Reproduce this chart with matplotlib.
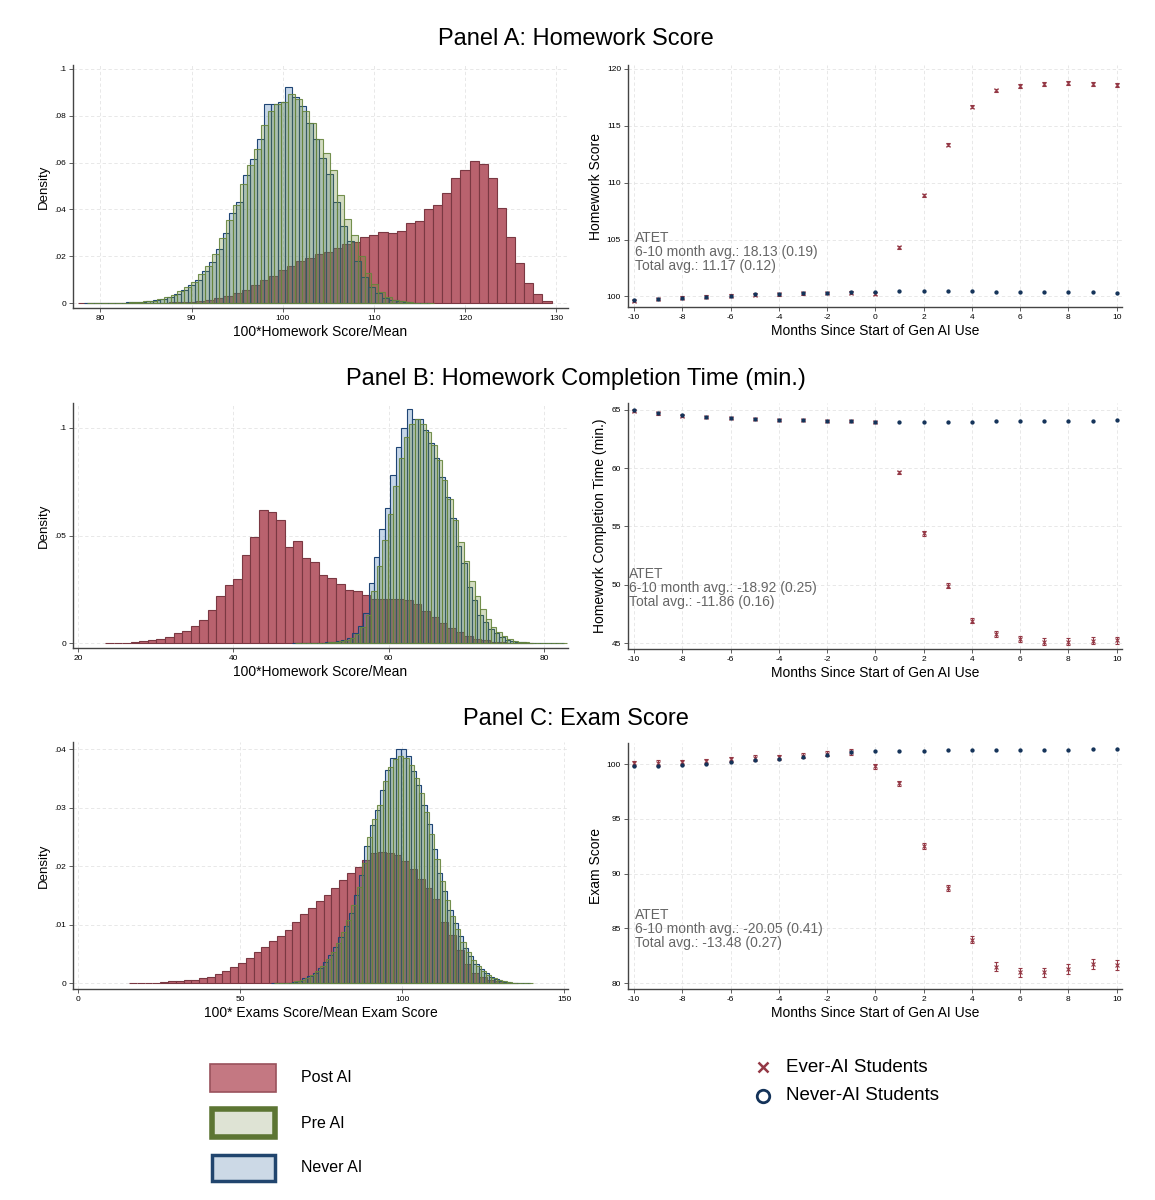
import numpy as np
import matplotlib
matplotlib.use("Agg")
import matplotlib.pyplot as plt
from matplotlib.patches import Rectangle
from matplotlib.lines import Line2D

plt.rcParams['font.family'] = ['Liberation Sans', 'DejaVu Sans']
plt.rcParams['axes.unicode_minus'] = False

# ---------------- DATA ----------------
series_labels = ["Post AI", "Pre AI", "Never AI"]
event_labels = ["Ever-AI Students", "Never-AI Students"]
panel_titles = ["Panel A: Homework Score",
                "Panel B: Homework Completion Time (min.)",
                "Panel C: Exam Score"]
hist_xlabels = ["100*Homework Score/Mean", "100*Homework Score/Mean",
                "100* Exams Score/Mean Exam Score"]
event_ylabels = ["Homework Score", "Homework Completion Time (min.)", "Exam Score"]
event_xlabel = "Months Since Start of Gen AI Use"

# Panel A histograms (bin start, bin width, densities)
a_post_bins = (77.5, 1.0)
a_post = [0.0000, 0.0000, 0.0000, 0.0000, 0.0000, 0.0001, 0.0001, 0.0001, 0.0002, 0.0002,
          0.0003, 0.0004, 0.0006, 0.0009, 0.0014, 0.0021, 0.0031, 0.0043, 0.0057, 0.0078,
          0.0100, 0.0117, 0.0142, 0.0160, 0.0178, 0.0192, 0.0209, 0.0220, 0.0235, 0.0252,
          0.0263, 0.0282, 0.0292, 0.0302, 0.0299, 0.0310, 0.0344, 0.0349, 0.0401, 0.0420,
          0.0472, 0.0533, 0.0569, 0.0607, 0.0593, 0.0536, 0.0405, 0.0282, 0.0171, 0.0085,
          0.0038, 0.0011]
a_pre_bins = (78.58, 0.76)
a_pre = [0.0000, 0.0000, 0.0001, 0.0001, 0.0001, 0.0002, 0.0003, 0.0004, 0.0007, 0.0011,
         0.0016, 0.0024, 0.0035, 0.0050, 0.0070, 0.0090, 0.0125, 0.0160, 0.0210, 0.0280,
         0.0355, 0.0420, 0.0510, 0.0590, 0.0660, 0.0760, 0.0820, 0.0850, 0.0860, 0.0895,
         0.0870, 0.0820, 0.0770, 0.0700, 0.0640, 0.0570, 0.0460, 0.0360, 0.0290, 0.0200,
         0.0130, 0.0080, 0.0048, 0.0026, 0.0014, 0.0008, 0.0004, 0.0002, 0.0001, 0.0001]
a_never_bins = (78.2, 0.76)
a_never = [0.0000, 0.0000, 0.0001, 0.0001, 0.0001, 0.0002, 0.0003, 0.0004, 0.0006, 0.0009,
           0.0013, 0.0019, 0.0027, 0.0040, 0.0055, 0.0078, 0.0100, 0.0135, 0.0175, 0.0230,
           0.0300, 0.0385, 0.0430, 0.0545, 0.0615, 0.0700, 0.0850, 0.0850, 0.0860, 0.0923,
           0.0880, 0.0840, 0.0770, 0.0700, 0.0620, 0.0550, 0.0430, 0.0330, 0.0265, 0.0180,
           0.0110, 0.0070, 0.0042, 0.0022, 0.0012, 0.0007, 0.0004, 0.0002, 0.0001, 0.0001]

# Panel B histograms
b_post_bins = (23.5, 1.1)
b_post = [0.0000, 0.0000, 0.0002, 0.0005, 0.0008, 0.0012, 0.0019, 0.0029, 0.0045, 0.0054,
          0.0078, 0.0107, 0.0155, 0.0217, 0.0271, 0.0299, 0.0408, 0.0491, 0.0620, 0.0609,
          0.0571, 0.0447, 0.0473, 0.0395, 0.0375, 0.0318, 0.0302, 0.0276, 0.0248, 0.0240,
          0.0225, 0.0206, 0.0205, 0.0206, 0.0204, 0.0200, 0.0180, 0.0150, 0.0120, 0.0095,
          0.0072, 0.0050, 0.0033, 0.0020, 0.0012, 0.0007, 0.0004, 0.0002, 0.0001, 0.0001]
b_pre_bins = (47.95, 0.7)
b_pre = [0.0000, 0.0000, 0.0000, 0.0001, 0.0001, 0.0002, 0.0003, 0.0005, 0.0008, 0.0013,
         0.0024, 0.0042, 0.0075, 0.0130, 0.0240, 0.0360, 0.0480, 0.0600, 0.0730, 0.0860,
         0.0960, 0.1020, 0.1040, 0.1020, 0.0980, 0.0920, 0.0850, 0.0760, 0.0670, 0.0570,
         0.0470, 0.0380, 0.0290, 0.0220, 0.0160, 0.0110, 0.0075, 0.0050, 0.0032, 0.0019,
         0.0011, 0.0006, 0.0003, 0.0002, 0.0001, 0.0001, 0.0000, 0.0000, 0.0000, 0.0000]
b_never_bins = (47.6, 0.7)
b_never = [0.0000, 0.0000, 0.0000, 0.0001, 0.0001, 0.0002, 0.0003, 0.0005, 0.0008, 0.0013,
           0.0025, 0.0045, 0.0080, 0.0140, 0.0280, 0.0400, 0.0530, 0.0630, 0.0780, 0.0910,
           0.1000, 0.1090, 0.1040, 0.1040, 0.0990, 0.0930, 0.0860, 0.0770, 0.0680, 0.0580,
           0.0450, 0.0370, 0.0260, 0.0200, 0.0130, 0.0100, 0.0065, 0.0045, 0.0028, 0.0016,
           0.0009, 0.0005, 0.0003, 0.0002, 0.0001, 0.0001, 0.0000, 0.0000, 0.0000, 0.0000]

# Panel C histograms
c_post_bins = (15.8, 2.4)
c_post = [0.0000, 0.0001, 0.0001, 0.0001, 0.0002, 0.0003, 0.0004, 0.0005, 0.0006, 0.0008,
          0.0011, 0.0015, 0.0021, 0.0028, 0.0035, 0.0043, 0.0053, 0.0062, 0.0072, 0.0081,
          0.0090, 0.0105, 0.0118, 0.0128, 0.0140, 0.0150, 0.0163, 0.0177, 0.0188, 0.0198,
          0.0210, 0.0222, 0.0224, 0.0222, 0.0219, 0.0208, 0.0195, 0.0178, 0.0163, 0.0143,
          0.0105, 0.0082, 0.0057, 0.0033, 0.0018, 0.0010, 0.0005, 0.0003, 0.0001, 0.0000]
c_pre_bins = (60.4, 1.6)
c_pre = [0.0000, 0.0000, 0.0001, 0.0001, 0.0003, 0.0005, 0.0009, 0.0014, 0.0021, 0.0030,
         0.0041, 0.0054, 0.0069, 0.0087, 0.0108, 0.0133, 0.0165, 0.0205, 0.0250, 0.0280,
         0.0305, 0.0345, 0.0370, 0.0383, 0.0388, 0.0385, 0.0372, 0.0350, 0.0325, 0.0292,
         0.0255, 0.0212, 0.0175, 0.0142, 0.0115, 0.0092, 0.0070, 0.0054, 0.0040, 0.0029,
         0.0021, 0.0014, 0.0009, 0.0005, 0.0003, 0.0002, 0.0001, 0.0000, 0.0000, 0.0000]
c_never_bins = (59.6, 1.6)
c_never = [0.0000, 0.0000, 0.0001, 0.0001, 0.0002, 0.0004, 0.0008, 0.0012, 0.0018, 0.0026,
           0.0036, 0.0048, 0.0062, 0.0078, 0.0098, 0.0120, 0.0150, 0.0185, 0.0235, 0.0270,
           0.0295, 0.0330, 0.0365, 0.0385, 0.0400, 0.0400, 0.0388, 0.0362, 0.0338, 0.0305,
           0.0272, 0.0230, 0.0188, 0.0158, 0.0125, 0.0102, 0.0080, 0.0060, 0.0047, 0.0033,
           0.0024, 0.0017, 0.0011, 0.0007, 0.0004, 0.0002, 0.0001, 0.0001, 0.0000, 0.0000]

# Event-study data
months = list(range(-10, 11))
a_never_y = [99.65, 99.80, 99.90, 99.97, 100.06, 100.20, 100.23, 100.29, 100.32, 100.35, 100.38,
             100.47, 100.44, 100.47, 100.44, 100.41, 100.41, 100.41, 100.38, 100.38, 100.29]
a_ever_y = [99.60, 99.78, 99.88, 99.98, 100.05, 100.15, 100.20, 100.28, 100.30, 100.33, 100.25,
            104.31, 108.89, 113.35, 116.68, 118.13, 118.48, 118.66, 118.75, 118.69, 118.63]
a_ever_err = [0.12] * 11 + [0.12, 0.13, 0.15, 0.15, 0.15, 0.17, 0.17, 0.20, 0.18, 0.18]

b_never_y = [64.97, 64.71, 64.51, 64.40, 64.29, 64.20, 64.14, 64.11, 64.06, 64.03, 63.94,
             63.94, 63.94, 63.94, 63.97, 64.00, 64.00, 64.00, 64.00, 64.06, 64.11]
b_ever_y = [64.90, 64.68, 64.48, 64.38, 64.27, 64.18, 64.12, 64.10, 64.05, 64.02, 63.92,
            59.63, 54.40, 49.94, 46.94, 45.80, 45.37, 45.14, 45.14, 45.23, 45.26]
b_ever_err = [0.10] * 11 + [0.15, 0.18, 0.20, 0.20, 0.22, 0.25, 0.28, 0.28, 0.30, 0.30]

c_never_y = [99.82, 99.79, 99.90, 100.00, 100.15, 100.37, 100.49, 100.61, 100.82, 101.07, 101.16,
             101.19, 101.19, 101.28, 101.31, 101.28, 101.31, 101.31, 101.28, 101.34, 101.34]
c_ever_y = [100.06, 100.09, 100.15, 100.24, 100.43, 100.55, 100.61, 100.76, 100.94, 101.10, 99.79,
            98.23, 92.54, 88.68, 83.96, 81.52, 81.00, 81.00, 81.28, 81.74, 81.67]
c_ever_err = [0.25] * 10 + [0.20, 0.22, 0.25, 0.28, 0.32, 0.38, 0.42, 0.42, 0.45, 0.45, 0.48]

atet_texts = ["ATET\n6-10 month avg.: 18.13 (0.19)\nTotal avg.: 11.17 (0.12)",
              "ATET\n6-10 month avg.: -18.92 (0.25)\nTotal avg.: -11.86 (0.16)",
              "ATET\n6-10 month avg.: -20.05 (0.41)\nTotal avg.: -13.48 (0.27)"]

# Tick settings
hist_xticks = [[80, 90, 100, 110, 120, 130], [20, 40, 60, 80], [0, 50, 100, 150]]
hist_yticks = [[0, 0.02, 0.04, 0.06, 0.08, 0.1], [0, 0.05, 0.1], [0, 0.01, 0.02, 0.03, 0.04]]
hist_yticklabels = [["0", ".02", ".04", ".06", ".08", ".1"], ["0", ".05", ".1"],
                    ["0", ".01", ".02", ".03", ".04"]]
event_yticks = [[100, 105, 110, 115, 120], [45, 50, 55, 60, 65], [80, 85, 90, 95, 100]]
event_xticks = list(range(-10, 11, 2))

# ---------------- STYLE / LAYOUT ----------------
W, H = 1155, 1200
fig = plt.figure(figsize=(W / 100, H / 100), dpi=100)

red_face = (0.725, 0.384, 0.431)
red_edge = (0.48, 0.22, 0.26)
green_face = (0.43, 0.55, 0.20, 0.30)
green_edge = (0.40, 0.52, 0.24, 0.9)
blue_face = (0.27, 0.47, 0.71, 0.30)
blue_edge = (0.12, 0.27, 0.46)
navy = (0.08, 0.20, 0.35)
ever_col = (0.58, 0.22, 0.27)
grid_col = '#e4e4e4'
spine_col = '#444444'


def fbox(left, top, right, bottom):
    return [left / W, 1 - bottom / H, (right - left) / W, (bottom - top) / H]


hist_boxes = [fbox(73, 65, 568, 308), fbox(73, 403, 568, 648), fbox(73, 742, 568, 989)]
event_boxes = [fbox(628, 65, 1122, 307), fbox(628, 403, 1122, 649), fbox(628, 743, 1122, 989)]
hist_xlims = [(77.0, 131.3), (19.36, 83.06), (-1.5, 151.2)]
hist_ylims = [(-0.0021, 0.1017), (-0.0023, 0.1116), (-0.001, 0.0412)]
event_xlim = (-10.25, 10.22)
event_ylims = [(99.07, 120.35), (44.51, 65.57), (79.48, 101.92)]
atet_pos = [(-9.95, 105.75), (-10.2, 51.55), (-9.95, 86.85)]
title_y = [39, 379, 719]

hist_data = [
    ((a_post_bins, a_post), (a_pre_bins, a_pre), (a_never_bins, a_never)),
    ((b_post_bins, b_post), (b_pre_bins, b_pre), (b_never_bins, b_never)),
    ((c_post_bins, c_post), (c_pre_bins, c_pre), (c_never_bins, c_never)),
]
event_data = [
    (a_never_y, a_ever_y, a_ever_err),
    (b_never_y, b_ever_y, b_ever_err),
    (c_never_y, c_ever_y, c_ever_err),
]


def style_axes(ax):
    for s in ['top', 'right']:
        ax.spines[s].set_visible(False)
    for s in ['left', 'bottom']:
        ax.spines[s].set_color(spine_col)
        ax.spines[s].set_linewidth(1.0)
    ax.tick_params(labelsize=6, length=3, width=0.6, color=spine_col, pad=2)
    ax.grid(True, color=grid_col, linestyle=(0, (4, 3)), linewidth=0.6)
    ax.set_axisbelow(True)


def draw_hist(ax, bins, heights, face, edge, lw, z):
    start, width = bins
    h = np.asarray(heights, dtype=float)
    centers = start + width * (np.arange(len(h)) + 0.5)
    ax.bar(centers, h, width=width, facecolor=face, edgecolor=edge, linewidth=lw, zorder=z)


for i in range(3):
    # Histogram panel
    ax = fig.add_axes(hist_boxes[i])
    style_axes(ax)
    (pb, pv), (gb, gv), (nb, nv) = hist_data[i]
    draw_hist(ax, pb, pv, red_face, red_edge, 0.8, 2)
    draw_hist(ax, nb, nv, blue_face, blue_edge, 0.8, 3)
    draw_hist(ax, gb, gv, green_face, green_edge, 0.8, 4)
    ax.set_xlim(*hist_xlims[i])
    ax.set_ylim(*hist_ylims[i])
    ax.set_xticks(hist_xticks[i])
    ax.set_yticks(hist_yticks[i])
    ax.set_yticklabels(hist_yticklabels[i])
    ax.set_xlabel(hist_xlabels[i], fontsize=10, labelpad=2)
    ax.set_ylabel("Density", fontsize=9.5, labelpad=3)

    # Event-study panel
    ax2 = fig.add_axes(event_boxes[i])
    style_axes(ax2)
    ny, ey, ee = event_data[i]
    ax2.errorbar(months, ey, yerr=ee, fmt='x', color=ever_col, ms=2.5, mew=0.8,
                 elinewidth=0.8, capsize=1.5, capthick=0.8, zorder=3)
    ax2.plot(months, ny, 'o', ms=2.1, color=navy, zorder=4)
    ax2.set_xlim(*event_xlim)
    ax2.set_ylim(*event_ylims[i])
    ax2.set_xticks(event_xticks)
    ax2.set_yticks(event_yticks[i])
    ax2.set_xlabel(event_xlabel, fontsize=10, labelpad=2)
    ax2.set_ylabel(event_ylabels[i], fontsize=10, labelpad=3)
    ax2.text(atet_pos[i][0], atet_pos[i][1], atet_texts[i], fontsize=10, color='#666666',
             ha='left', va='top', linespacing=1.0, zorder=5)

    fig.text(576 / W, 1 - title_y[i] / H, panel_titles[i], ha='center', va='center',
             fontsize=17)

# ---------------- LEGENDS ----------------
leg_boxes = [(210, 1064, 276, 1092), (212, 1109, 275, 1137), (212, 1155, 275, 1181)]
leg_faces = [(0.77, 0.47, 0.51), (0.87, 0.89, 0.83), (0.80, 0.85, 0.90)]
leg_edges = [(0.60, 0.32, 0.36), (0.36, 0.46, 0.20), (0.13, 0.27, 0.43)]
leg_lws = [1.2, 4.0, 2.5]
leg_text_y = [1078, 1123, 1168]
for j in range(3):
    l, t, r, b = leg_boxes[j]
    fig.add_artist(Rectangle((l / W, 1 - b / H), (r - l) / W, (b - t) / H,
                             transform=fig.transFigure, facecolor=leg_faces[j],
                             edgecolor=leg_edges[j], linewidth=leg_lws[j]))
    fig.text(301 / W, 1 - leg_text_y[j] / H, series_labels[j], fontsize=11.5,
             ha='left', va='center')

fig.add_artist(Line2D([763 / W], [1 - 1067 / H], marker='x', ms=7, mew=1.8,
                      color=ever_col, linestyle='none', transform=fig.transFigure))
fig.add_artist(Line2D([763 / W], [1 - 1096 / H], marker='o', ms=9, mew=2.0,
                      markerfacecolor='none', markeredgecolor=navy, linestyle='none',
                      transform=fig.transFigure))
fig.text(786 / W, 1 - 1067 / H, event_labels[0], fontsize=13.5, ha='left', va='center')
fig.text(786 / W, 1 - 1096 / H, event_labels[1], fontsize=13.5, ha='left', va='center')

fig.savefig("out.png", dpi=100)
